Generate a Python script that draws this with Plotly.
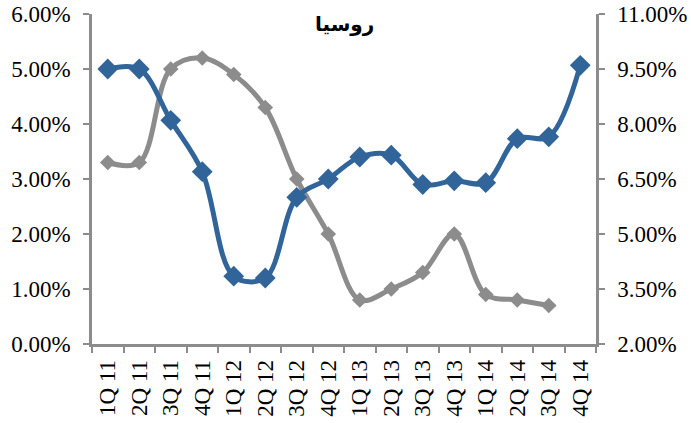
import plotly.graph_objects as go

quarters = ["1Q 11", "2Q 11", "3Q 11", "4Q 11", "1Q 12", "2Q 12", "3Q 12", "4Q 12",
            "1Q 13", "2Q 13", "3Q 13", "4Q 13", "1Q 14", "2Q 14", "3Q 14", "4Q 14"]
gray_values = [3.3, 3.3, 5.0, 5.2, 4.9, 4.3, 3.0, 2.0, 0.8, 1.0, 1.3, 2.0, 0.9, 0.8, 0.7]
blue_values = [9.5, 9.5, 8.1, 6.7, 3.85, 3.8, 6.0, 6.5, 7.1, 7.15, 6.35, 6.45, 6.4, 7.6, 7.65, 9.6]
title_text = "روسيا"

BLUE = "#31659A"
GRAY = "#8C8C8C"
AXIS = "#8C8C8C"
FONT = "Liberation Serif, Times New Roman, serif"

fig = go.Figure()
fig.add_trace(go.Scatter(
    x=quarters[:len(gray_values)], y=gray_values, mode="lines+markers",
    line=dict(color=GRAY, width=5, shape="spline", smoothing=1.0),
    marker=dict(symbol="diamond", size=12, color=GRAY),
    yaxis="y", showlegend=False, hoverinfo="skip"))
fig.add_trace(go.Scatter(
    x=quarters, y=blue_values, mode="lines+markers",
    line=dict(color=BLUE, width=5, shape="spline", smoothing=1.0),
    marker=dict(symbol="diamond", size=16, color=BLUE),
    yaxis="y2", showlegend=False, hoverinfo="skip"))

fig.update_layout(
    width=691, height=423,
    margin=dict(l=92, r=95, t=14, b=79, autoexpand=False),
    paper_bgcolor="white", plot_bgcolor="white",
    font=dict(family=FONT, size=23, color="black"),
    xaxis=dict(
        type="category", categoryorder="array", categoryarray=quarters,
        range=[-0.5, 15.5], tickangle=-90, tickson="boundaries", automargin=False,
        ticks="outside", ticklen=6, tickwidth=2, tickcolor=AXIS, ticklabelstandoff=4,
        showline=True, linecolor=AXIS, linewidth=2.5, showgrid=False, zeroline=False),
    yaxis=dict(
        range=[0, 6], dtick=1, tick0=0, tickformat=".2f", ticksuffix="%", automargin=False,
        ticks="outside", ticklen=6, tickwidth=2, tickcolor=AXIS, ticklabelstandoff=8,
        showline=True, linecolor=AXIS, linewidth=2.5, showgrid=False, zeroline=False),
    yaxis2=dict(
        overlaying="y", side="right", range=[2, 11], dtick=1.5, tick0=2, automargin=False,
        tickformat=".2f", ticksuffix="%",
        ticks="outside", ticklen=6, tickwidth=2, tickcolor=AXIS, ticklabelstandoff=8,
        showline=True, linecolor=AXIS, linewidth=2.5, showgrid=False, zeroline=False),
)
fig.add_annotation(
    text="<b>" + title_text + "</b>", xref="paper", yref="paper",
    x=0.5, y=1 - 10 / 330, xanchor="center", yanchor="middle", showarrow=False,
    font=dict(family="DejaVu Sans, Noto Sans, sans-serif", size=20, color="black"))

fig.write_html("out.html", config={"displayModeBar": False},
               post_script="document.body.style.margin='0';")
